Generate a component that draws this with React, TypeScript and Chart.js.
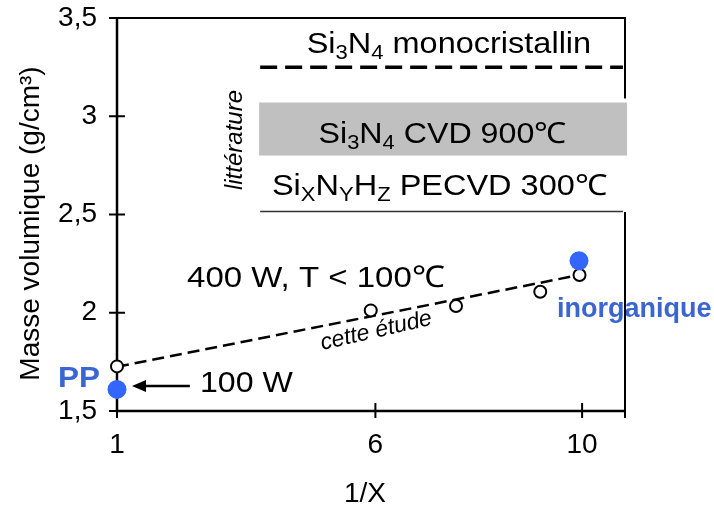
import React, { useEffect, useRef } from 'react';
import { Chart, registerables } from 'chart.js';
Chart.register(...registerables);

// ---- data ----
const xTickValues = [1, 6, 10];
const xRange = [1, 10.83];
const yRange = [1.5, 3.5];

const studyX = [1, 5.91, 7.56, 9.19, 9.95];
const studyY = [1.727, 2.012, 2.034, 2.107, 2.192];

const blueX = [1, 9.94];
const blueY = [1.61, 2.265];

const fitX = [1, 10];
const fitY = [1.725, 2.195];

const monoX = [3.77, 10.79];
const monoY = [3.25, 3.25];

const pecvdX = [3.77, 10.79];
const pecvdY = [2.515, 2.515];

const cvdX = [3.75, 10.87];
const cvdLow = [2.80, 2.80];
const cvdHigh = [3.07, 3.07];

const FONT = '"Liberation Sans", Arial, sans-serif';
const BLUE_DOT = '#3366ff';
const BLUE_TXT = '#3a66d4';

type Part = { t: string; sub?: boolean };

function drawRich(ctx: CanvasRenderingContext2D, parts: Part[], x: number, y: number, size: number, sx: number) {
  ctx.save();
  ctx.translate(x, y);
  ctx.scale(sx, 1);
  let cx = 0;
  for (const p of parts) {
    const s = p.sub ? size * 0.68 : size;
    ctx.font = `${s}px ${FONT}`;
    ctx.textAlign = 'left';
    ctx.textBaseline = 'alphabetic';
    ctx.fillText(p.t, cx, p.sub ? size * 0.2 : 0);
    cx += ctx.measureText(p.t).width;
  }
  ctx.restore();
}

function drawStretched(ctx: CanvasRenderingContext2D, text: string, x: number, y: number, font: string, sx: number, align: CanvasTextAlign = 'left') {
  ctx.save();
  ctx.translate(x, y);
  ctx.scale(sx, 1);
  ctx.font = font;
  ctx.textAlign = align;
  ctx.textBaseline = 'alphabetic';
  ctx.fillText(text, 0, 0);
  ctx.restore();
}

const annotPlugin = {
  id: 'annot',
  beforeDatasetsDraw(chart: any) {
    const ctx: CanvasRenderingContext2D = chart.ctx;
    const xs = chart.scales.x;
    const ys = chart.scales.y;
    const px = (v: number) => xs.getPixelForValue(v);
    const py = (v: number) => ys.getPixelForValue(v);
    const area = chart.chartArea;
    ctx.save();

    // gray CVD box
    ctx.fillStyle = '#c0c0c0';
    ctx.fillRect(px(cvdX[0]), py(cvdHigh[0]), px(cvdX[1]) - px(cvdX[0]), py(cvdLow[0]) - py(cvdHigh[0]));

    ctx.fillStyle = '#000';
    drawRich(ctx, [{ t: 'Si' }, { t: '3', sub: true }, { t: 'N' }, { t: '4', sub: true }, { t: ' monocristallin' }], px(4.67), py(3.322), 29, 1.12);
    drawRich(ctx, [{ t: 'Si' }, { t: '3', sub: true }, { t: 'N' }, { t: '4', sub: true }, { t: ' CVD 900℃' }], px(4.9), py(2.864), 29, 1.11);
    drawRich(ctx, [{ t: 'Si' }, { t: 'X', sub: true }, { t: 'N' }, { t: 'Y', sub: true }, { t: 'H' }, { t: 'Z', sub: true }, { t: ' PECVD 300℃' }], px(3.998), py(2.599), 29, 1.12);

    // littérature
    ctx.save();
    ctx.translate(px(3.42), py(2.879));
    ctx.rotate(-Math.PI / 2);
    ctx.font = `italic 24px ${FONT}`;
    ctx.textAlign = 'center';
    ctx.textBaseline = 'alphabetic';
    ctx.fillText('littérature', 0, 0);
    ctx.restore();

    // 400 W
    drawStretched(ctx, '400 W, T < 100℃', px(2.355), py(2.131), `30px ${FONT}`, 1.1);

    // cette étude
    ctx.save();
    ctx.translate(px(4.97), py(1.81));
    ctx.rotate((-13 * Math.PI) / 180);
    ctx.font = `italic 23px ${FONT}`;
    ctx.textAlign = 'left';
    ctx.textBaseline = 'alphabetic';
    ctx.fillText('cette étude', 0, 0);
    ctx.restore();

    // 100 W + arrow
    drawStretched(ctx, '100 W', px(2.606), py(1.597), `30px ${FONT}`, 1.07);
    const ay = py(1.627);
    const tip = px(1.29);
    const tail = px(2.41);
    ctx.strokeStyle = '#000';
    ctx.lineWidth = 2.5;
    ctx.beginPath();
    ctx.moveTo(tail, ay);
    ctx.lineTo(tip + 10, ay);
    ctx.stroke();
    ctx.beginPath();
    ctx.moveTo(tip, ay);
    ctx.lineTo(tip + 14, ay - 6);
    ctx.lineTo(tip + 14, ay + 6);
    ctx.closePath();
    ctx.fill();

    // PP and inorganique
    ctx.fillStyle = BLUE_TXT;
    drawStretched(ctx, 'PP', area.left - 17, py(1.622), `bold 30px ${FONT}`, 1.05, 'right');
    drawStretched(ctx, 'inorganique', px(9.516), py(1.978), `bold 27px ${FONT}`, 1.0, 'left');

    // axis titles
    ctx.fillStyle = '#000';
    ctx.save();
    ctx.translate(31, (py(3.5) + py(1.5)) / 2 + 9);
    ctx.rotate(-Math.PI / 2);
    ctx.font = `28px ${FONT}`;
    ctx.textAlign = 'center';
    ctx.textBaseline = 'middle';
    ctx.fillText('Masse volumique (g/cm³)', 0, 0);
    ctx.restore();
    ctx.font = `28px ${FONT}`;
    ctx.textAlign = 'center';
    ctx.textBaseline = 'middle';
    ctx.fillText('1/X', (area.left + area.right) / 2 - 6, 494);

    // frame
    ctx.strokeStyle = '#000';
    ctx.lineWidth = 2.5;
    ctx.beginPath();
    ctx.moveTo(area.left, area.top);
    ctx.lineTo(area.left, area.bottom);
    ctx.lineTo(area.right, area.bottom);
    ctx.stroke();
    ctx.lineWidth = 2;
    ctx.beginPath();
    ctx.moveTo(area.left, area.top);
    ctx.lineTo(area.right, area.top);
    ctx.lineTo(area.right, py(3.09));
    ctx.moveTo(area.right, py(2.513));
    ctx.lineTo(area.right, area.bottom + 7);
    ctx.stroke();

    // tick marks
    ctx.lineWidth = 2;
    for (const t of ys.ticks) {
      const y = py(t.value);
      ctx.beginPath();
      ctx.moveTo(area.left - 8, y);
      ctx.lineTo(area.left + 8, y);
      ctx.stroke();
    }
    for (const t of xs.ticks) {
      const x = px(t.value);
      ctx.beginPath();
      ctx.moveTo(x, area.bottom - 8);
      ctx.lineTo(x, area.bottom + 7);
      ctx.stroke();
    }
    ctx.restore();
  },
};

export default function App() {
  const ref = useRef<HTMLCanvasElement>(null);
  useEffect(() => {
    if (!ref.current) return;
    const pts = (xs: number[], ys: number[]) => xs.map((x, i) => ({ x, y: ys[i] }));
    const chart = new Chart(ref.current, {
      type: 'scatter',
      data: {
        datasets: [
          {
            label: 'blue',
            data: pts(blueX, blueY),
            pointRadius: 9.5,
            pointBackgroundColor: BLUE_DOT,
            pointBorderWidth: 0,
            showLine: false,
            clip: false,
          } as any,
          {
            label: 'study',
            data: pts(studyX, studyY),
            pointRadius: 6,
            pointBackgroundColor: '#fff',
            pointBorderColor: '#000',
            pointBorderWidth: 2,
            showLine: false,
            clip: false,
          },
          {
            label: 'fit',
            data: pts(fitX, fitY),
            showLine: true,
            borderColor: '#000',
            borderWidth: 2.5,
            borderDash: [12, 6],
            pointRadius: 0,
          },
          {
            label: 'mono',
            data: pts(monoX, monoY),
            showLine: true,
            borderColor: '#000',
            borderWidth: 3.5,
            borderDash: [17, 8],
            pointRadius: 0,
          },
          {
            label: 'pecvd',
            data: pts(pecvdX, pecvdY),
            showLine: true,
            borderColor: '#333',
            borderWidth: 1.5,
            pointRadius: 0,
          },
        ],
      },
      options: {
        responsive: false,
        animation: false,
        layout: { padding: { left: 0, top: 18, right: 89, bottom: 0 } },
        plugins: { legend: { display: false }, tooltip: { enabled: false } },
        scales: {
          x: {
            type: 'linear',
            min: xRange[0],
            max: xRange[1],
            grid: { display: false, drawTicks: false },
            border: { display: false },
            afterBuildTicks: (s: any) => {
              s.ticks = xTickValues.map((v) => ({ value: v }));
            },
            afterFit: (s: any) => {
              s.height = 98;
            },
            ticks: {
              font: { size: 28, family: FONT },
              color: '#000',
              padding: 17,
              maxRotation: 0,
              autoSkip: false,
              callback: (v: any) => String(v),
            },
          },
          y: {
            type: 'linear',
            min: yRange[0],
            max: yRange[1],
            grid: { display: false, drawTicks: false },
            border: { display: false },
            afterFit: (s: any) => {
              s.width = 117;
              s.paddingTop = 0;
              s.paddingBottom = 0;
            },
            ticks: {
              stepSize: 0.5,
              font: { size: 28, family: FONT, lineHeight: 0.2 },
              color: '#000',
              padding: 20,
              callback: (v: any) => String(v).replace('.', ','),
            },
          },
        },
      },
      plugins: [annotPlugin],
    });
    return () => chart.destroy();
  }, []);
  return (
    <div style={{ position: 'absolute', left: 0, top: 0, width: 714, height: 509, background: '#fff' }}>
      <canvas ref={ref} width={714} height={509} />
    </div>
  );
}
